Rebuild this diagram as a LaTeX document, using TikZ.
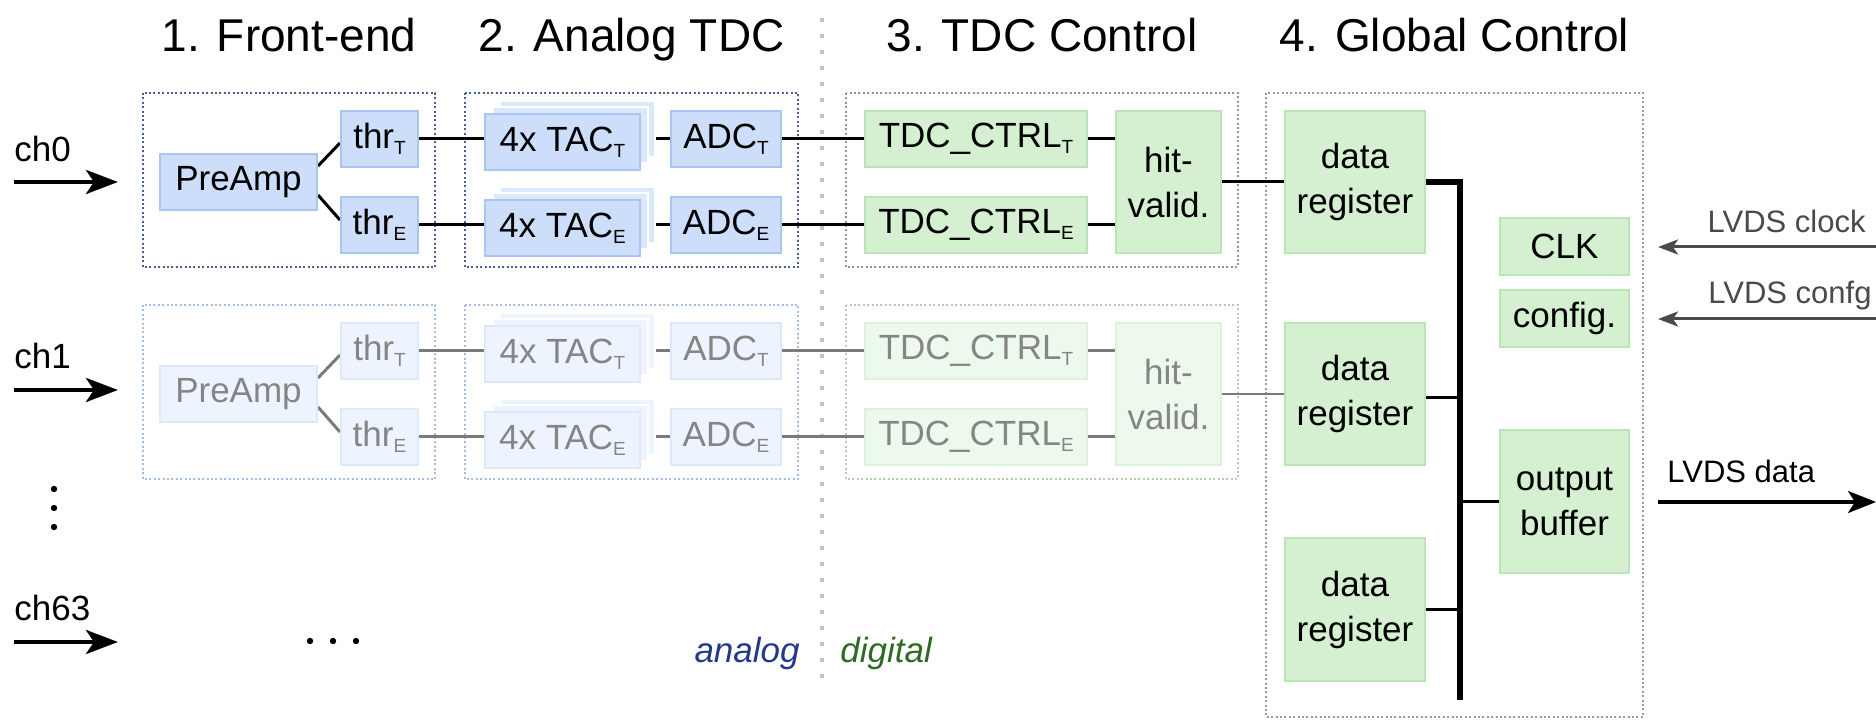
\documentclass[tikz,border=0pt]{standalone}
\usepackage{fontspec}
\setmainfont{Liberation Sans}
\usetikzlibrary{arrows.meta,calc}
\pgfdeclarelayer{back}
\pgfsetlayers{back,main}
\definecolor{afill}{HTML}{CCDEFA}
\definecolor{adraw}{HTML}{A9C6F3}
\definecolor{afillb}{HTML}{DCE8FC}
\definecolor{afill1}{HTML}{EEF4FE}
\definecolor{adraw1}{HTML}{DDE8FB}
\definecolor{dfill}{HTML}{D4F0D1}
\definecolor{ddraw}{HTML}{BBE5B6}
\definecolor{dfill1}{HTML}{EEF9EE}
\definecolor{ddraw1}{HTML}{DDF1DB}
\definecolor{fadetext}{HTML}{858585}
\definecolor{frA0}{HTML}{4A6291}
\definecolor{frA1}{HTML}{A6BDE2}
\definecolor{frD0}{HTML}{8C968A}
\definecolor{frD1}{HTML}{BCC8B9}
\definecolor{frG}{HTML}{9A9A9A}
\definecolor{sepc}{HTML}{C4C4C4}
\definecolor{wire1c}{HTML}{7A7A7A}
\definecolor{lvdsc}{HTML}{4A4A4A}
\definecolor{analogc}{HTML}{22398A}
\definecolor{digitalc}{HTML}{2E6A20}
\newcommand\lowidx[1]{\raisebox{-3pt}{\fontsize{9.5}{10}\selectfont #1}}
\newcommand\chrow[2]{%
 \node[an, wh={157}{56}] (pa#1) at (238.5,182+#2) {PreAmp};
 \node[an, wh={77}{56}] (tt#1) at (379.5,139+#2) {thr\lowidx{T}};
 \node[an, wh={77}{56}] (te#1) at (379.5,225+#2) {thr\lowidx{E}};
 \node[anst, wh={155}{56}] (tTc#1) at (577.5,129+#2) {};
 \node[anst, wh={155}{56}] (tTb#1) at (570.5,135+#2) {};
 \node[an, wh={155}{56}] (tT#1) at (562.5,142+#2) {4x TAC\lowidx{T}};
 \node[anst, wh={155}{56}] (tEc#1) at (577.5,215+#2) {};
 \node[anst, wh={155}{56}] (tEb#1) at (570.5,221+#2) {};
 \node[an, wh={155}{56}] (tE#1) at (562.5,228+#2) {4x TAC\lowidx{E}};
 \node[an, wh={110}{56}] (aT#1) at (726,139+#2) {ADC\lowidx{T}};
 \node[an, wh={110}{56}] (aE#1) at (726,225+#2) {ADC\lowidx{E}};
 \node[dg, wh={222}{56}] (cT#1) at (976,139+#2) {TDC\_CTRL\lowidx{T}};
 \node[dg, wh={222}{56}] (cE#1) at (976,225+#2) {TDC\_CTRL\lowidx{E}};
 \node[dg, wh={105}{142}] (hv#1) at (1168.5,182+#2) {hit-\\valid.};
 \begin{pgfonlayer}{back}
  \draw[frA] (143,93+#2) rectangle (435,267+#2);
  \draw[frA] (465,93+#2) rectangle (798,267+#2);
  \draw[frD] (846,93+#2) rectangle (1238,267+#2);
  \draw[wire] ($(pa#1.east)+(0,-16)$) -- ($(tt#1.west)+(0,4)$);
  \draw[wire] ($(pa#1.east)+(0,13)$) -- ($(te#1.west)+(0,-5)$);
  \draw[wire] (tt#1.east) -- (tt#1.east -| tT#1.center);
  \draw[wire] (te#1.east) -- (te#1.east -| tE#1.center);
  \draw[wire] (aT#1.west) -- (aT#1.west -| tT#1.center);
  \draw[wire] (aE#1.west) -- (aE#1.west -| tE#1.center);
  \draw[wire] (aT#1.east) -- (cT#1.west);
  \draw[wire] (aE#1.east) -- (cE#1.west);
  \draw[wire] (cT#1.east) -- (cT#1.east -| hv#1.center);
  \draw[wire] (cE#1.east) -- (cE#1.east -| hv#1.center);
 \end{pgfonlayer}
}
\tikzset{
 wh/.style 2 args={minimum width={#1*0.5pt},minimum height={#2*0.5pt}},
 blk/.style={rectangle, inner sep=0pt, line width=1pt, align=center,
   font=\fontsize{17.5}{22.5}\selectfont},
 frm/.style={line width=1pt, dash pattern=on 1pt off 1.2pt},
 lbl/.style={inner sep=0pt, font=\fontsize{17.5}{21}\selectfont},
 lvds/.style={inner sep=0pt, font=\fontsize{15.5}{19}\selectfont, text=lvdsc},
 ttl/.style={inner sep=0pt, anchor=base, font=\fontsize{23}{27}\selectfont},
 inarrow/.style={line width=2.2pt, -{Stealth[length=16pt,width=12pt,inset=4pt]}},
 garrow/.style={line width=1.5pt, lvdsc, -{Stealth[length=10pt,width=7.5pt,inset=2.5pt]}},
 darrow/.style={line width=1.7pt, black, -{Stealth[length=14pt,width=11pt,inset=3.5pt]}},
 bus/.style={line width=3pt, black},
 branch/.style={line width=1.5pt, black},
}
\begin{document}
\begin{tikzpicture}[x=0.5pt,y=-0.5pt]
\useasboundingbox (0,0) rectangle (1876,721);
% titles
\node[ttl] (t1) at (289,52) {1. Front-end};
\node[ttl] (t2) at (631.5,52) {2. Analog TDC};
\node[ttl] (t3) at (1042,52) {3. TDC Control};
\node[ttl] (t4) at (1454.5,52) {4. Global Control};
% separator
\begin{pgfonlayer}{back}
\draw[sepc, line width=2pt, dash pattern=on 2pt off 6pt] (822,18) -- (822,688);
\end{pgfonlayer}
% channel rows
\begin{scope}[an/.style={blk, fill=afill, draw=adraw, text=black},
  anst/.style={blk, fill=afillb, draw=white, line width=1.2pt},
  dg/.style={blk, fill=dfill, draw=ddraw, text=black},
  wire/.style={line width=1.5pt, black},
  frA/.style={frm, draw=frA0}, frD/.style={frm, draw=frD0}]
\chrow{0}{0}
\end{scope}
\begin{scope}[an/.style={blk, fill=afill1, draw=adraw1, text=fadetext},
  anst/.style={blk, fill=afill1, draw=white, line width=1.2pt},
  dg/.style={blk, fill=dfill1, draw=ddraw1, text=fadetext},
  wire/.style={line width=1.5pt, wire1c},
  frA/.style={frm, draw=frA1}, frD/.style={frm, draw=frD1}]
\chrow{1}{212}
\end{scope}
% global control
\node[blk, fill=dfill, draw=ddraw, wh={140}{142}] (dr1) at (1355,182) {data\\register};
\node[blk, fill=dfill, draw=ddraw, wh={140}{142}] (dr2) at (1355,394) {data\\register};
\node[blk, fill=dfill, draw=ddraw, wh={140}{143}] (dr3) at (1355,609.5) {data\\register};
\node[blk, fill=dfill, draw=ddraw, wh={129}{57}] (clk) at (1564.5,246.5) {CLK};
\node[blk, fill=dfill, draw=ddraw, wh={129}{57}] (cfg) at (1564.5,318.5) {config.};
\node[blk, fill=dfill, draw=ddraw, wh={129}{143}] (ob) at (1564.5,501.5) {output\\buffer};
\coordinate (bt) at (1460,182);
\coordinate (bb) at (1460,700);
\begin{pgfonlayer}{back}
\draw[frm, draw=frG] (1266,93) rectangle (1643,717);
\draw[line width=1.5pt, black] (hv0.east) -- (dr1.west);
\draw[line width=1pt, wire1c] (hv1.east) -- (dr2.west);
\end{pgfonlayer}
\draw[bus] (dr1.east) -- (bt) -- (bb);
\draw[branch] ($(dr2.east)+(0,4)$) -- ($(dr2.east -| bt)+(0,4)$);
\draw[branch] (dr3.east) -- (dr3.east -| bt);
\draw[branch] (ob.west) -- (ob.west -| bt);
% inputs
\node[lbl, anchor=base west] (l0) at (14,162) {ch0};
\node[lbl, anchor=base west] (l1) at (14,369) {ch1};
\node[lbl, anchor=base west] (l63) at (14,621) {ch63};
\coordinate (a0s) at (14,182); \coordinate (a0e) at (118,182);
\coordinate (a1s) at (14,390); \coordinate (a1e) at (118,390);
\coordinate (a63s) at (14,642); \coordinate (a63e) at (118,642);
\draw[inarrow] (a0s) -- (a0e);
\draw[inarrow] (a1s) -- (a1e);
\draw[inarrow] (a63s) -- (a63e);
\foreach \yy in {489,508,527} \fill (54,\yy) circle (1.6pt);
\foreach \xx in {310,333,356} \fill (\xx,641) circle (1.6pt);
% LVDS
\node[lvds, anchor=base east] (lclk) at (1866,233) {LVDS clock};
\node[lvds, anchor=base east] (lcfg) at (1872,304) {LVDS confg};
\node[lvds, anchor=base west, text=black] (ldat) at (1667,483) {LVDS data};
\coordinate (ck1) at (1876,247); \coordinate (ck2) at (1658,247);
\coordinate (cf1) at (1876,319); \coordinate (cf2) at (1658,319);
\coordinate (dt1) at (1658,502); \coordinate (dt2) at (1876,502);
\draw[garrow] (ck1) -- (ck2);
\draw[garrow] (cf1) -- (cf2);
\draw[darrow] (dt1) -- (dt2);
% analog / digital
\node[lbl, anchor=base east, font=\fontsize{17.5}{21}\selectfont\itshape, text=analogc] (an) at (800,663) {analog};
\node[lbl, anchor=base west, font=\fontsize{17.5}{21}\selectfont\itshape, text=digitalc] (dg) at (840,663) {digital};
\end{tikzpicture}
\end{document}
